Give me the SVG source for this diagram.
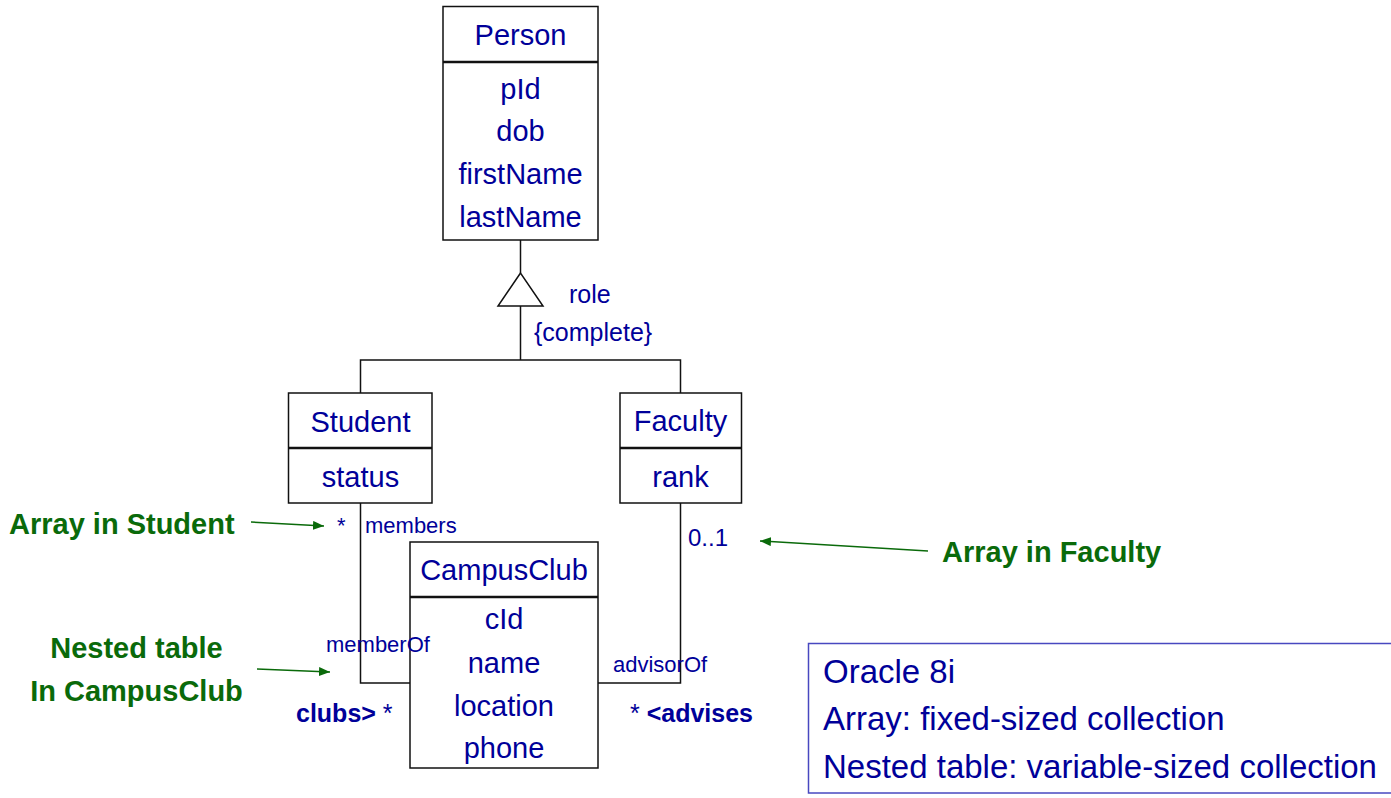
<svg xmlns="http://www.w3.org/2000/svg" width="1391" height="798" viewBox="0 0 1391 798">
<style>
text{font-family:"Liberation Sans",Arial,Helvetica,sans-serif;fill:#000099}
.cls{font-size:29px;text-anchor:middle}
.box{fill:#fff;stroke:#111;stroke-width:1.5}
.sep{stroke:#111;stroke-width:2.5}
.ln{fill:none;stroke:#111;stroke-width:1.5}
.role{font-size:22px}
.mult{font-size:24px}
.bold{font-size:25px;font-weight:bold}
.note{font-size:29px;font-weight:bold;fill:#0a6a0a}
.garr{stroke:#0a6a0a;stroke-width:1.5;fill:none;marker-end:url(#gh)}
.info{font-size:33px}
</style>
<defs>
<marker id="gh" markerUnits="userSpaceOnUse" markerWidth="12" markerHeight="10" refX="11" refY="4.5" orient="auto">
<path d="M0,0 L11,4.5 L0,9 z" fill="#0a6a0a"/>
</marker>
</defs>
<g id="connectors">
<line class="ln" x1="520.5" y1="240" x2="520.5" y2="273"/>
<polygon points="520.5,273 498,306 543,306" fill="#fff" stroke="#111" stroke-width="1.5"/>
<polyline class="ln" points="520.5,306 520.5,360"/>
<polyline class="ln" points="360.5,393 360.5,360 680.5,360 680.5,393"/>
<polyline class="ln" points="360.5,503 360.5,683 410,683"/>
<polyline class="ln" points="680.5,503 680.5,683 598,683"/>
</g>
<g id="Person">
<rect class="box" x="443" y="6.5" width="155" height="233.5"/>
<line class="sep" x1="443" y1="62" x2="598" y2="62"/>
<text class="cls" x="520.5" y="45">Person</text>
<text class="cls" x="520.5" y="99">pId</text>
<text class="cls" x="520.5" y="141">dob</text>
<text class="cls" x="520.5" y="184">firstName</text>
<text class="cls" x="520.5" y="227">lastName</text>
</g>
<g id="Student">
<rect class="box" x="288.5" y="393" width="143.5" height="110"/>
<line class="sep" x1="288.5" y1="448" x2="432" y2="448"/>
<text class="cls" x="360.5" y="432">Student</text>
<text class="cls" x="360.5" y="487">status</text>
</g>
<g id="Faculty">
<rect class="box" x="620" y="393" width="121.5" height="110"/>
<line class="sep" x1="620" y1="448" x2="741.5" y2="448"/>
<text class="cls" x="680.5" y="431">Faculty</text>
<text class="cls" x="680.5" y="487">rank</text>
</g>
<g id="CampusClub">
<rect class="box" x="410" y="542" width="188" height="226"/>
<line class="sep" x1="410" y1="597" x2="598" y2="597"/>
<text class="cls" x="504" y="580">CampusClub</text>
<text class="cls" x="504" y="629">cId</text>
<text class="cls" x="504" y="673">name</text>
<text class="cls" x="504" y="716">location</text>
<text class="cls" x="504" y="758">phone</text>
</g>
<g id="connector-labels">
<text x="569" y="303" style="font-size:25px">role</text>
<text x="534" y="341" style="font-size:25px">{complete}</text>
<text x="337" y="533" class="role">*</text>
<text x="365" y="533" class="role">members</text>
<text x="326" y="652" class="role">memberOf</text>
<text x="613" y="672" class="role">advisorOf</text>
<text x="688" y="546" class="mult">0..1</text>
<text x="296" y="722" class="bold">clubs&gt; <tspan font-weight="normal">*</tspan></text>
<text x="630" y="722" class="bold"><tspan font-weight="normal">*</tspan> &lt;advises</text>
</g>
<g id="annotations">
<text class="note" x="9" y="534">Array in Student</text>
<line class="garr" x1="251" y1="522" x2="324" y2="526"/>
<text class="note" x="136.5" y="658" text-anchor="middle">Nested table</text>
<text class="note" x="136.5" y="701" text-anchor="middle">In CampusClub</text>
<line class="garr" x1="257" y1="669" x2="330" y2="672"/>
<text class="note" x="942" y="562">Array in Faculty</text>
<line class="garr" x1="928" y1="551" x2="760" y2="541"/>
</g>
<g id="info">
<rect x="808.5" y="643.5" width="620" height="149.5" fill="#fff" stroke="#4848c0" stroke-width="1.5"/>
<text class="info" x="823" y="683">Oracle 8i</text>
<text class="info" x="823" y="730">Array: fixed-sized collection</text>
<text class="info" x="823" y="778">Nested table: variable-sized collection</text>
</g>
</svg>
